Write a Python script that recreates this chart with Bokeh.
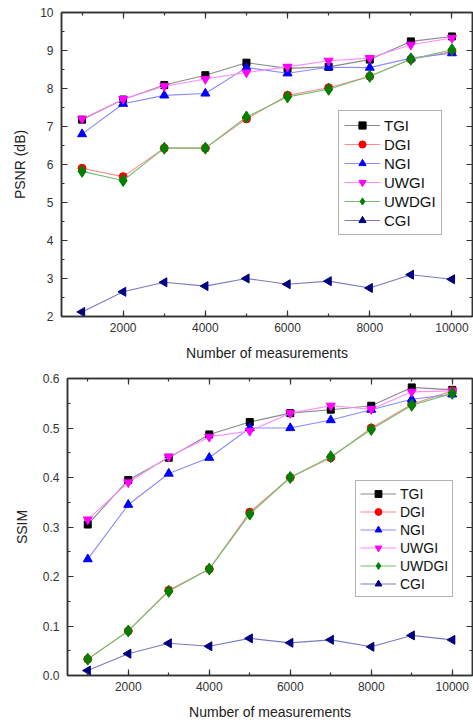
import numpy as np
from bokeh.plotting import figure
from bokeh.models import (Range1d, LinearAxis, SingleIntervalTicker, NumeralTickFormatter,
                          Legend, CustomLabelingPolicy)
from bokeh.embed import file_html
from bokeh.resources import INLINE

measurements = [1000, 2000, 3000, 4000, 5000, 6000, 7000, 8000, 9000, 10000]
series_names = ["TGI", "DGI", "NGI", "UWGI", "UWDGI", "CGI"]

psnr_TGI = [7.18, 7.71, 8.09, 8.35, 8.68, 8.53, 8.57, 8.76, 9.24, 9.37]
psnr_DGI = [5.90, 5.68, 6.43, 6.43, 7.20, 7.82, 8.02, 8.32, 8.77, 8.97]
psnr_NGI = [6.80, 7.60, 7.82, 7.87, 8.55, 8.40, 8.56, 8.55, 8.80, 8.93]
psnr_UWGI = [7.20, 7.72, 8.06, 8.25, 8.42, 8.57, 8.73, 8.80, 9.15, 9.33]
psnr_UWDGI = [5.82, 5.58, 6.43, 6.43, 7.25, 7.78, 7.98, 8.32, 8.77, 9.02]
psnr_CGI = [2.12, 2.65, 2.90, 2.80, 3.00, 2.85, 2.93, 2.75, 3.10, 2.98]

ssim_TGI = [0.305, 0.395, 0.440, 0.487, 0.512, 0.530, 0.537, 0.545, 0.582, 0.577]
ssim_DGI = [0.033, 0.090, 0.172, 0.215, 0.330, 0.400, 0.440, 0.500, 0.548, 0.575]
ssim_NGI = [0.235, 0.345, 0.408, 0.440, 0.500, 0.500, 0.516, 0.537, 0.558, 0.568]
ssim_UWGI = [0.315, 0.390, 0.442, 0.482, 0.494, 0.530, 0.545, 0.538, 0.573, 0.575]
ssim_UWDGI = [0.033, 0.090, 0.170, 0.215, 0.326, 0.400, 0.442, 0.497, 0.546, 0.570]
ssim_CGI = [0.010, 0.044, 0.065, 0.059, 0.075, 0.066, 0.072, 0.058, 0.081, 0.072]

psnr = [psnr_TGI, psnr_DGI, psnr_NGI, psnr_UWGI, psnr_UWDGI, psnr_CGI]
ssim = [ssim_TGI, ssim_DGI, ssim_NGI, ssim_UWGI, ssim_UWDGI, ssim_CGI]

marker_colors = ["#000000", "#ff0000", "#0000ff", "#ff00ff", "#008000", "#000080"]
line_colors = ["#8a8a8a", "#ff8a8a", "#8a8aff", "#ff8aff", "#70c070", "#7a7ac4"]
markers = ["square", "circle", "triangle", "inverted_triangle", "diamond", "triangle"]
angles = [0, 0, 0, 0, 0, np.pi / 2]
sizes = [7, 8, 9, 9, 12, 9]

FONT = "Liberation Sans"
AX = "#333333"

HIDE_LABELS = CustomLabelingPolicy(code="""
try { for (let i = 0; i < indices.size; i++) indices.unset(i); } catch (e) {}
return indices;
""")


def style_axis(ax, hide=False):
    ax.axis_line_color = AX
    ax.axis_line_width = 1.5
    ax.major_tick_line_color = AX
    ax.minor_tick_line_color = AX
    ax.major_tick_line_width = 1.2
    ax.minor_tick_line_width = 1.2
    ax.major_tick_in = 6
    ax.major_tick_out = 0
    ax.minor_tick_in = 3
    ax.minor_tick_out = 0
    ax.major_label_text_font = FONT
    ax.major_label_text_font_size = "12px"
    ax.major_label_text_color = "#333333"
    ax.axis_label_text_font = FONT
    ax.axis_label_text_font_size = "14px"
    ax.axis_label_text_font_style = "normal"
    ax.axis_label_text_color = "#222222"
    if hide:
        ax.major_label_policy = HIDE_LABELS
        ax.major_label_standoff = 0
        ax.axis_label = None


def make_fig(data, y0, y1, yint, yfmt, ylabel, fw, fh, bl, bt, ylab_standoff,
             legend_xy, legend_fs, lh, pad):
    p = figure(frame_width=fw, frame_height=fh, output_backend="svg", toolbar_location=None,
               x_range=Range1d(500, 10500), y_range=Range1d(y0, y1),
               min_border_left=bl, min_border_right=1, min_border_top=bt,
               min_border_bottom=45, background_fill_color="white")
    p.grid.visible = False
    p.outline_line_color = AX
    p.outline_line_width = 1.5
    p.xaxis.ticker = SingleIntervalTicker(interval=2000, num_minor_ticks=2)
    p.yaxis.ticker = SingleIntervalTicker(interval=yint, num_minor_ticks=2)
    p.xaxis.formatter = NumeralTickFormatter(format="0")
    p.yaxis.formatter = NumeralTickFormatter(format=yfmt)
    p.xaxis.axis_label = "Number of measurements"
    p.yaxis.axis_label = ylabel
    for ax in p.xaxis + p.yaxis:
        style_axis(ax)
    p.xaxis.major_label_standoff = 6
    p.xaxis.axis_label_standoff = 10
    p.yaxis.major_label_standoff = 8
    p.yaxis.axis_label_standoff = ylab_standoff
    top = LinearAxis(ticker=SingleIntervalTicker(interval=2000, num_minor_ticks=2))
    right = LinearAxis(ticker=SingleIntervalTicker(interval=yint, num_minor_ticks=2))
    style_axis(top, hide=True)
    style_axis(right, hide=True)
    p.add_layout(top, "above")
    p.add_layout(right, "right")

    items = []
    for i, name in enumerate(series_names):
        r1 = p.line(measurements, data[i], line_color=line_colors[i], line_width=1.1)
        r2 = p.scatter(measurements, data[i], marker=markers[i], angle=angles[i],
                       size=sizes[i], fill_color=marker_colors[i],
                       line_color=marker_colors[i])
        items.append((name, [r1, r2]))
    leg = Legend(items=items, location=legend_xy)
    leg.label_text_font = FONT
    leg.label_text_font_size = legend_fs
    leg.label_text_color = "#111111"
    leg.glyph_width = 36
    leg.glyph_height = lh
    leg.label_height = lh
    leg.spacing = 1
    leg.padding = pad
    leg.margin = 0
    leg.label_standoff = 4
    leg.border_line_color = "#666666"
    leg.border_line_width = 1
    leg.background_fill_alpha = 1
    p.add_layout(leg, "center")
    return p


p1 = make_fig(psnr, 2, 10, 1, "0", "PSNR (dB)", 411, 304, 61, 12, 9,
              (277, 81), "15px", 18, 5)
p2 = make_fig(ssim, 0, 0.6000001, 0.1, "0.0", "SSIM", 405, 297, 67, 15, 10,
              (288, 78), "14px", 17, 4)

open("out.html", "w").write(file_html([p1, p2], INLINE))
